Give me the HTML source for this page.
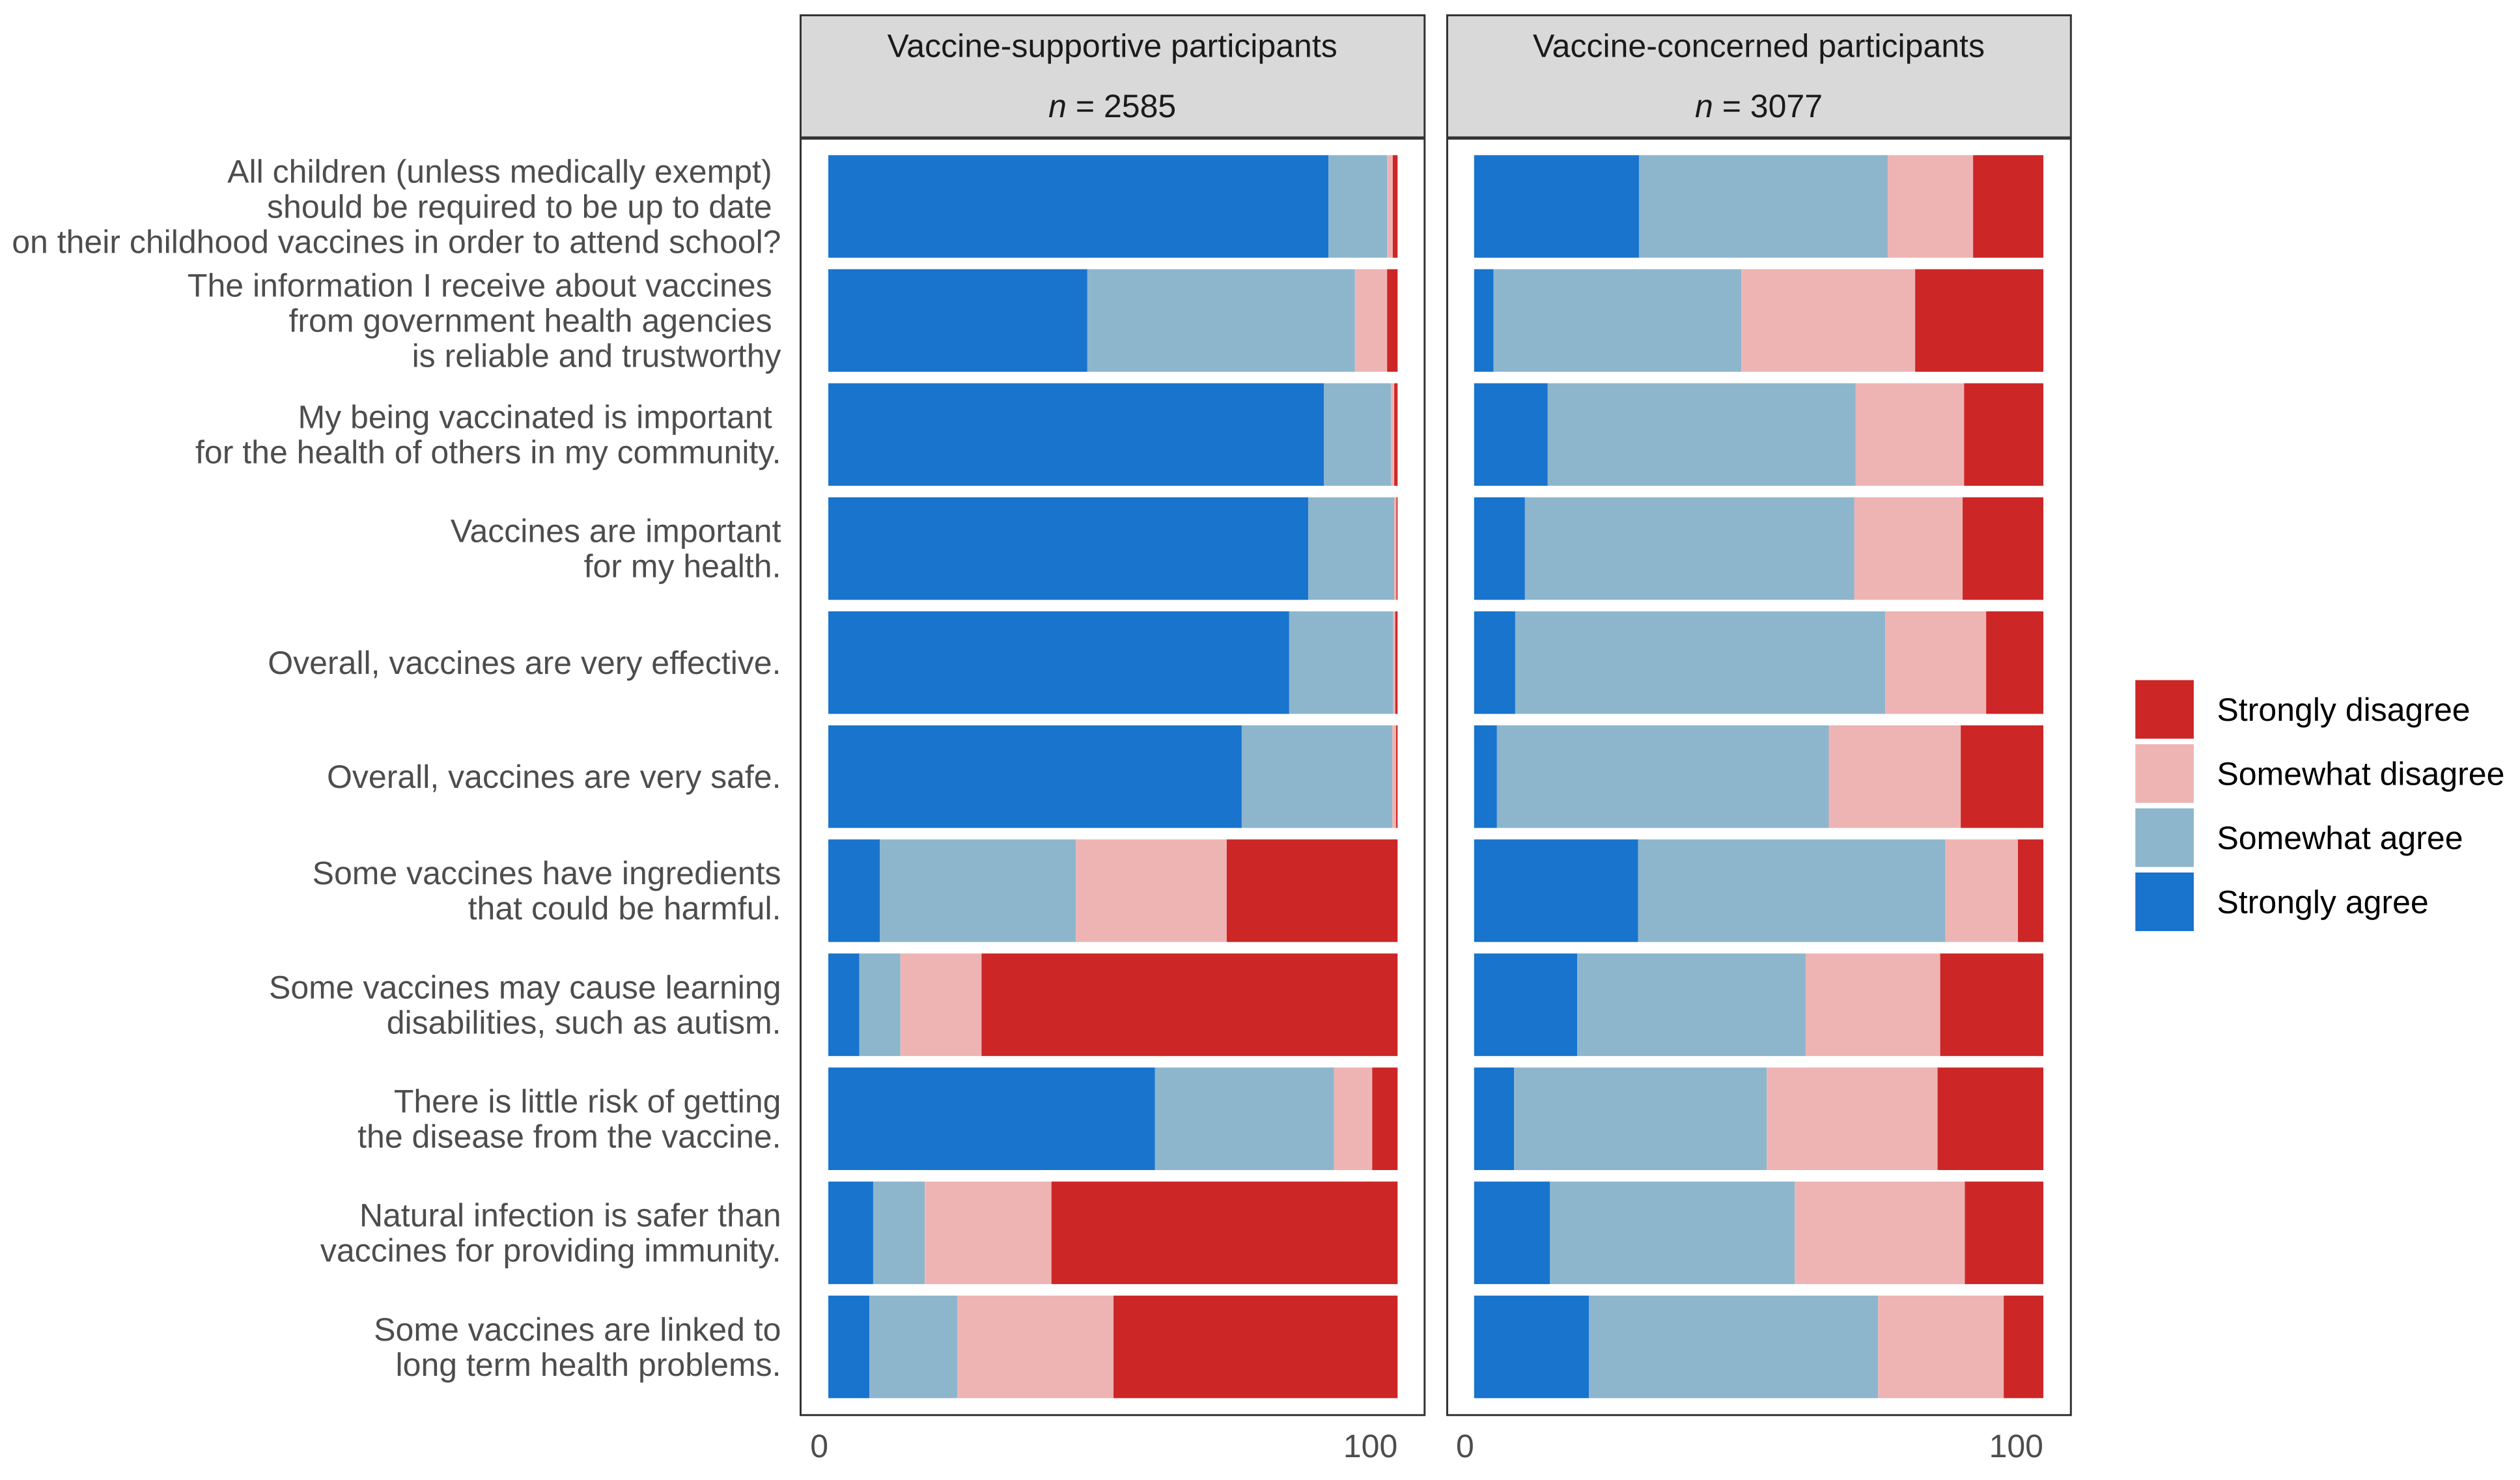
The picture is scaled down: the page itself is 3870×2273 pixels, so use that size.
<!DOCTYPE html>
<html lang="en">
<head>
<meta charset="utf-8">
<title>Vaccine attitudes by participant group</title>
<style>
  html, body { margin: 0; padding: 0; background: #ffffff; }
  svg { display: block; }
  text { font-family: "Liberation Sans", Arial, sans-serif; font-size: 50px; white-space: pre; text-rendering: geometricPrecision; }
</style>
</head>
<body>
<svg id="chart" xmlns="http://www.w3.org/2000/svg" width="3870" height="2273" viewBox="0 0 3870 2273">
  <rect x="0" y="0" width="3870" height="2273" fill="#ffffff"/>

  <g>
    <rect x="1229.5" y="23.5" width="958.3" height="187.5" fill="#D9D9D9" stroke="#333333" stroke-width="3"/>
    <text x="1708.2" y="87.3" text-anchor="middle" fill="#1A1A1A">Vaccine-supportive participants</text>
    <text x="1708.2" y="180" text-anchor="middle" fill="#1A1A1A"><tspan font-style="italic">n</tspan> = 2585</text>
  </g>
  <g>
    <rect x="2222.5" y="23.5" width="957.8" height="187.5" fill="#D9D9D9" stroke="#333333" stroke-width="3"/>
    <text x="2701" y="87.3" text-anchor="middle" fill="#1A1A1A">Vaccine-concerned participants</text>
    <text x="2701" y="180" text-anchor="middle" fill="#1A1A1A"><tspan font-style="italic">n</tspan> = 3077</text>
  </g>

  <g id="marks"></g>
  <g id="y-labels"></g>
  <g id="x-labels"></g>

  <rect x="1229.5" y="213" width="958.3" height="1960.3" fill="none" stroke="#333333" stroke-width="3"/>
  <rect x="2222.5" y="213" width="957.8" height="1960.3" fill="none" stroke="#333333" stroke-width="3"/>

  <g id="legend"></g>
</svg>

<script>
// ---- Data (percent of respondents) ----
const categories = [
  ["All children (unless medically exempt) ", "should be required to be up to date ", "on their childhood vaccines in order to attend school?"],
  ["The information I receive about vaccines ", "from government health agencies ", "is reliable and trustworthy"],
  ["My being vaccinated is important ", "for the health of others in my community."],
  ["Vaccines are important", "for my health."],
  ["Overall, vaccines are very effective."],
  ["Overall, vaccines are very safe."],
  ["Some vaccines have ingredients", "that could be harmful."],
  ["Some vaccines may cause learning", "disabilities, such as autism."],
  ["There is little risk of getting", "the disease from the vaccine."],
  ["Natural infection is safer than", "vaccines for providing immunity."],
  ["Some vaccines are linked to", "long term health problems."]
];
const responseLevels = ["Strongly agree", "Somewhat agree", "Somewhat disagree", "Strongly disagree"];
const legendLabels = ["Strongly disagree", "Somewhat disagree", "Somewhat agree", "Strongly agree"];
const tickValues = [0, 100];
const tickLabels = ["0", "100"];

const supportiveStronglyAgree    = [87.85, 45.50, 87.07, 84.31, 80.96, 72.62,  9.06,  5.45, 57.39,  7.88,  7.22];
const supportiveSomewhatAgree    = [10.31, 47.01, 11.75, 15.10, 18.25, 26.46, 34.41,  7.22, 31.45,  9.06, 15.43];
const supportiveSomewhatDisagree = [ 0.99,  5.65,  0.59,  0.39,  0.39,  0.66, 26.52, 14.25,  6.70, 22.26, 27.45];
const supportiveStronglyDisagree = [ 0.85,  1.84,  0.59,  0.20,  0.40,  0.26, 30.01, 73.08,  4.46, 60.80, 49.90];

const concernedStronglyAgree     = [28.96,  3.41, 12.93,  8.93,  7.22,  4.01, 28.82, 18.12,  7.03, 13.33, 20.16];
const concernedSomewhatAgree     = [43.73, 43.54, 54.11, 57.85, 65.01, 58.30, 53.98, 40.12, 44.38, 43.01, 50.82];
const concernedSomewhatDisagree  = [14.97, 30.53, 19.04, 19.04, 17.72, 23.18, 12.74, 23.64, 30.01, 29.87, 22.06];
const concernedStronglyDisagree  = [12.34, 22.52, 13.92, 14.18, 10.05, 14.51,  4.46, 18.12, 18.58, 13.79,  6.96];

// ---- Drawing code ----
const NS = "http://www.w3.org/2000/svg";
const levelColors = { "Strongly agree": "#1874CD", "Somewhat agree": "#8DB6CD", "Somewhat disagree": "#EEB4B4", "Strongly disagree": "#CD2626" };
const rowTop = 238.3, rowStep = 175.15, barHeight = 157.5;

function makeXScale(x0, x100) {
  return function (v) { return x0 + (x100 - x0) * v / 100; };
}
function bandTop(i) { return rowTop + i * rowStep; }
function bandCenter(i) { return bandTop(i) + barHeight / 2; }
function slug(s) { return s.toLowerCase().replace(/\s+/g, "-"); }

const panels = [
  { key: "supportive", x: makeXScale(1272.05, 2146.3),
    series: [supportiveStronglyAgree, supportiveSomewhatAgree, supportiveSomewhatDisagree, supportiveStronglyDisagree] },
  { key: "concerned", x: makeXScale(2263.8, 3138),
    series: [concernedStronglyAgree, concernedSomewhatAgree, concernedSomewhatDisagree, concernedStronglyDisagree] }
];

const marks = document.getElementById("marks");
const xLabelGroup = document.getElementById("x-labels");
panels.forEach(function (panel) {
  categories.forEach(function (_, row) {
    let cumulative = 0;
    panel.series.forEach(function (values, level) {
      const value = values[row];
      const rect = document.createElementNS(NS, "rect");
      rect.setAttribute("x", panel.x(cumulative));
      rect.setAttribute("y", bandTop(row));
      rect.setAttribute("width", panel.x(cumulative + value) - panel.x(cumulative));
      rect.setAttribute("height", barHeight);
      rect.setAttribute("fill", levelColors[responseLevels[level]]);
      
      
      marks.appendChild(rect);
      cumulative += value;
    });
  });
  tickValues.forEach(function (tick, i) {
    const label = document.createElementNS(NS, "text");
    label.setAttribute("x", panel.x(tick));
    label.setAttribute("y", 2238);
    label.setAttribute("text-anchor", "end");
    label.setAttribute("fill", "#4D4D4D");
    label.textContent = tickLabels[i];
    
    
    xLabelGroup.appendChild(label);
  });
});

const yLabelGroup = document.getElementById("y-labels");
const lineGap = 54;
categories.forEach(function (lines, row) {
  const middleBaseline = bandCenter(row) + 17.2;
  lines.forEach(function (line, j) {
    const text = document.createElementNS(NS, "text");
    text.setAttribute("x", 1199.5);
    text.setAttribute("y", middleBaseline + (j - (lines.length - 1) / 2) * lineGap);
    text.setAttribute("text-anchor", "end");
    text.setAttribute("fill", "#4D4D4D");
    text.setAttribute("xml:space", "preserve");
    text.textContent = line;
    
    
    yLabelGroup.appendChild(text);
  });
});

const legend = document.getElementById("legend");
legendLabels.forEach(function (name, i) {
  const top = 1044.5 + i * 98.5;
  const key = document.createElementNS(NS, "rect");
  key.setAttribute("x", 3279.3);
  key.setAttribute("y", top);
  key.setAttribute("width", 89.7);
  key.setAttribute("height", 90);
  key.setAttribute("fill", levelColors[name]);
  
  
  legend.appendChild(key);
  const label = document.createElementNS(NS, "text");
  label.setAttribute("x", 3404.5);
  label.setAttribute("y", top + 62.5);
  label.setAttribute("fill", "#000000");
  label.textContent = name;
  
  
  legend.appendChild(label);
});
</script>
</body>
</html>
